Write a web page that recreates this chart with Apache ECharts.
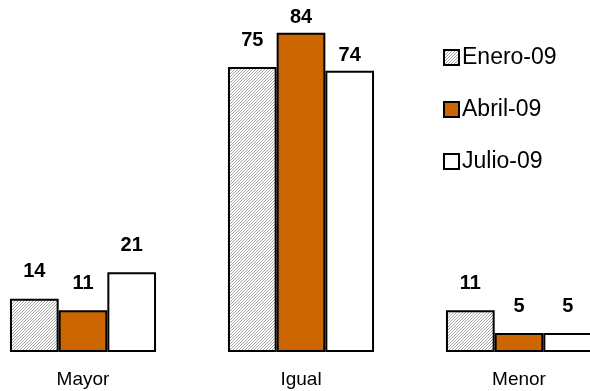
<!DOCTYPE html>
<html>
<head>
<meta charset="utf-8">
<script src="https://cdn.jsdelivr.net/npm/echarts@6/dist/echarts.min.js"></script>
<style>
  html, body { margin: 0; padding: 0; background: #fff; overflow: hidden; }
  #wrap { position: relative; width: 590px; height: 391px; overflow: hidden; }
  /* the plot is wider than the window: the outer categories run past both edges */
  #chart { position: absolute; left: -26px; top: 0; width: 654px; height: 391px; }
</style>
</head>
<body>
<div id="wrap"><div id="chart"></div></div>
<script>
// Survey answers by category, three waves
const categories = ['Mayor', 'Igual', 'Menor'];
const seriesNames = ['Enero-09', 'Abril-09', 'Julio-09'];
const enero = [14, 75, 11];
const abril = [11, 84, 5];
const julio = [21, 74, 5];

// Labels that sit close to their bar (series index, category index)
const closeLabels = [[1, 1], [2, 1]];

// Fine diagonal hatch used for the first series
function makeHatch() {
  const c = document.createElement('canvas');
  c.width = 3; c.height = 3;
  const ctx = c.getContext('2d');
  ctx.fillStyle = '#ffffff';
  ctx.fillRect(0, 0, 3, 3);
  ctx.fillStyle = '#a6a6a6';
  for (let i = 0; i < 3; i++) {
    ctx.fillRect(i, 2 - i, 1, 1);
  }
  return { image: c, repeat: 'repeat' };
}

const fills = [makeHatch(), '#cc6600', '#ffffff'];
const values = [enero, abril, julio];

function buildSeries(si) {
  return {
    name: seriesNames[si],
    type: 'bar',
    barGap: '0%',
    barCategoryGap: '33%',
    itemStyle: { color: fills[si], borderColor: '#000', borderWidth: 2 },
    label: {
      show: true,
      position: 'top',
      distance: 17,
      color: '#000',
      fontSize: 20,
      fontWeight: 'bold',
      fontFamily: 'Liberation Sans, Arial, sans-serif'
    },
    data: values[si].map((v, ci) => {
      const close = closeLabels.some(p => p[0] === si && p[1] === ci);
      return close ? { value: v, label: { distance: 5 } } : v;
    })
  };
}

const chart = echarts.init(document.getElementById('chart'), null, { renderer: 'canvas' });
chart.setOption({
  animation: false,
  backgroundColor: '#fff',
  textStyle: { fontFamily: 'Liberation Sans, Arial, sans-serif', color: '#000' },
  grid: { left: 0, right: 0, top: 10, bottom: 39, containLabel: false },
  legend: {
    orient: 'vertical',
    left: 464,
    top: 40,
    itemWidth: 15,
    itemHeight: 15,
    itemGap: 27,
    icon: 'rect',
    textStyle: { fontSize: 23, color: '#000', lineHeight: 25, padding: [0, 0, 0, -2] },
    data: seriesNames
  },
  xAxis: {
    type: 'category',
    data: categories,
    axisLine: { show: false },
    axisTick: { show: false },
    axisLabel: { color: '#000', fontSize: 19, margin: 18 }
  },
  yAxis: {
    type: 'value',
    min: 0,
    max: 90,
    show: false,
    splitLine: { show: false }
  },
  series: [0, 1, 2].map(buildSeries)
});
</script>
</body>
</html>
